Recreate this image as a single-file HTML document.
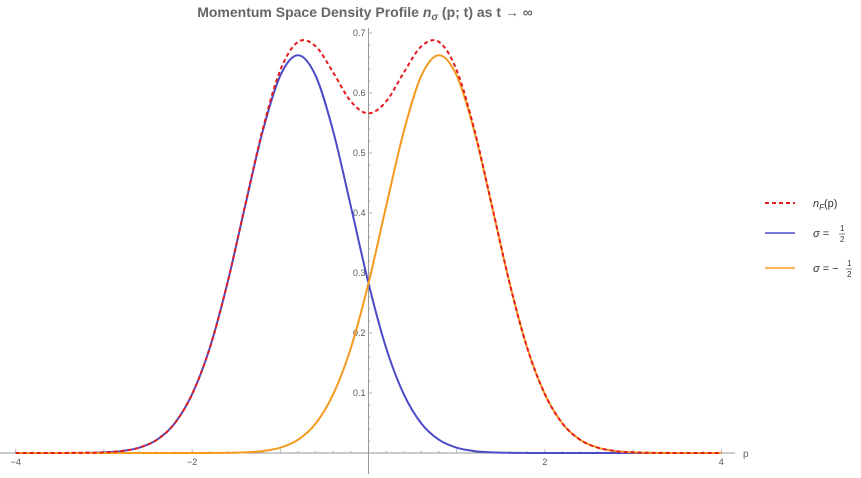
<!DOCTYPE html>
<html><head><meta charset="utf-8">
<style>
body{margin:0;background:#fff;}
svg{display:block;font-family:"Liberation Sans",sans-serif;}
</style></head>
<body>
<svg id="chart" width="861" height="478" viewBox="0 0 861 478">
<text x="365" y="17" text-anchor="middle" font-size="14" font-weight="bold" fill="#666">Momentum Space Density Profile <tspan font-style="italic">n</tspan><tspan font-style="italic" font-size="10" dy="3">σ</tspan><tspan dy="-3"> (p; t) as t → ∞</tspan></text>
<g id="axes"></g>
<g id="series"></g>
<g>
  <g>
    <line x1="765" y1="203" x2="795" y2="203" stroke="#e41a1c" stroke-width="2" stroke-dasharray="4,3"/>
    <text x="813" y="207" font-size="11" fill="#333"><tspan font-style="italic">n</tspan><tspan font-style="italic" font-size="8" dy="3">F</tspan><tspan dy="-3">(p)</tspan></text>
  </g>
  <g>
    <line x1="765" y1="233" x2="795" y2="233" stroke="#4b4bc8" stroke-width="1.5"/>
    <text x="813" y="237" font-size="11" fill="#333"><tspan font-style="italic">σ</tspan> = </text>
    <text x="840" y="231" font-size="8" fill="#333">1</text><line x1="839" y1="234" x2="845" y2="234" stroke="#333" stroke-width="0.6"/><text x="840" y="242" font-size="8" fill="#333">2</text>
  </g>
  <g>
    <line x1="765" y1="268" x2="795" y2="268" stroke="#f39a1f" stroke-width="1.5"/>
    <text x="813" y="272" font-size="11" fill="#333"><tspan font-style="italic">σ</tspan> = −</text>
    <text x="847" y="266" font-size="8" fill="#333">1</text><line x1="846" y1="269" x2="852" y2="269" stroke="#333" stroke-width="0.6"/><text x="847" y="277" font-size="8" fill="#333">2</text>
  </g>
</g>
</svg>
<script>
const pStart = -4, pStep = 0.2;
const blueVals = [0,0,0,0.0001,0.0003,0.0011,0.0032,0.0089,0.022,0.049,0.098,0.175,0.283,0.411,0.536,0.629,0.663,0.629,0.536,0.411,0.283,0.175,0.098,0.049,0.022,0.0089,0.0032,0.0011,0.0003,0.0001,0,0,0,0,0,0,0,0,0,0,0];
const orangeVals = [0,0,0,0,0,0,0,0,0,0,0,0.0001,0.0003,0.0011,0.0032,0.0089,0.022,0.049,0.098,0.175,0.283,0.411,0.536,0.629,0.663,0.629,0.536,0.411,0.283,0.175,0.098,0.049,0.022,0.0089,0.0032,0.0011,0.0003,0.0001,0,0,0];
const redVals = [0,0,0,0.0001,0.0003,0.0011,0.0032,0.0089,0.022,0.049,0.098,0.175,0.283,0.412,0.539,0.638,0.685,0.678,0.634,0.586,0.566,0.586,0.634,0.678,0.685,0.638,0.539,0.412,0.283,0.175,0.098,0.049,0.022,0.0089,0.0032,0.0011,0.0003,0.0001,0,0,0];
const xTicks = [-4,-2,2,4];
const xTickLabels = ["−4","−2","2","4"];
const yTicks = [0.1,0.2,0.3,0.4,0.5,0.6,0.7];
const yTickLabels = ["0.1","0.2","0.3","0.4","0.5","0.6","0.7"];

const X = p => 368.5 + p*88.2;
const Y = v => 453 - v*600;
const NS="http://www.w3.org/2000/svg";
const axes=document.getElementById('axes'), series=document.getElementById('series');
function mk(tag,attrs,parent){const e=document.createElementNS(NS,tag);for(const k in attrs)e.setAttribute(k,attrs[k]);parent.appendChild(e);return e;}

const xa=mk('line',{x1:0,y1:453,x2:735,y2:453,stroke:'#999','stroke-width':1},axes);


const ya=mk('line',{x1:X(0),y1:28,x2:X(0),y2:474,stroke:'#999','stroke-width':1},axes);


const pl=mk('text',{x:743,y:457,'font-size':10,fill:'#666'},axes);pl.textContent='p';


for(let p=-4;p<=4.001;p+=0.2){const x=X(p);mk('line',{x1:x,y1:453,x2:x,y2:Math.abs(Math.round(p*5)%5)===0?449:451,stroke:'#999','stroke-width':0.7},axes);}
xTicks.forEach((t,i)=>{const e=mk('text',{x:X(t),y:465,'font-size':9,fill:'#555','text-anchor':'middle'},axes);e.textContent=xTickLabels[i];

});
for(let v=0.02;v<=0.71;v+=0.02){const y=Y(v);const major=Math.abs(Math.round(v*50)%5)===0;mk('line',{x1:X(0),y1:y,x2:X(0)+(major?4:2),y2:y,stroke:'#999','stroke-width':0.7},axes);}
yTicks.forEach((t,i)=>{const e=mk('text',{x:X(0)-3,y:Y(t)+3,'font-size':9,fill:'#555','text-anchor':'end'},axes);e.textContent=yTickLabels[i];

});

function path(vals){const pts=vals.map((v,i)=>[X(pStart+i*pStep),Y(v)]);let d='M'+pts[0][0]+','+pts[0][1];
for(let i=0;i<pts.length-1;i++){const p0=pts[Math.max(0,i-1)],p1=pts[i],p2=pts[i+1],p3=pts[Math.min(pts.length-1,i+2)];
const c1=[p1[0]+(p2[0]-p0[0])/6,p1[1]+(p2[1]-p0[1])/6],c2=[p2[0]-(p3[0]-p1[0])/6,p2[1]-(p3[1]-p1[1])/6];
d+=` C${c1[0]},${c1[1]} ${c2[0]},${c2[1]} ${p2[0]},${p2[1]}`;}return d;}
const ob=mk('path',{d:path(blueVals),fill:'none',stroke:'#4b4bc8','stroke-width':2},series);


const oo=mk('path',{d:path(orangeVals),fill:'none',stroke:'#f39a1f','stroke-width':2},series);


const orr=mk('path',{d:path(redVals),fill:'none',stroke:'#e41a1c','stroke-width':2,'stroke-dasharray':'4,3'},series);


</script>
</body></html>
